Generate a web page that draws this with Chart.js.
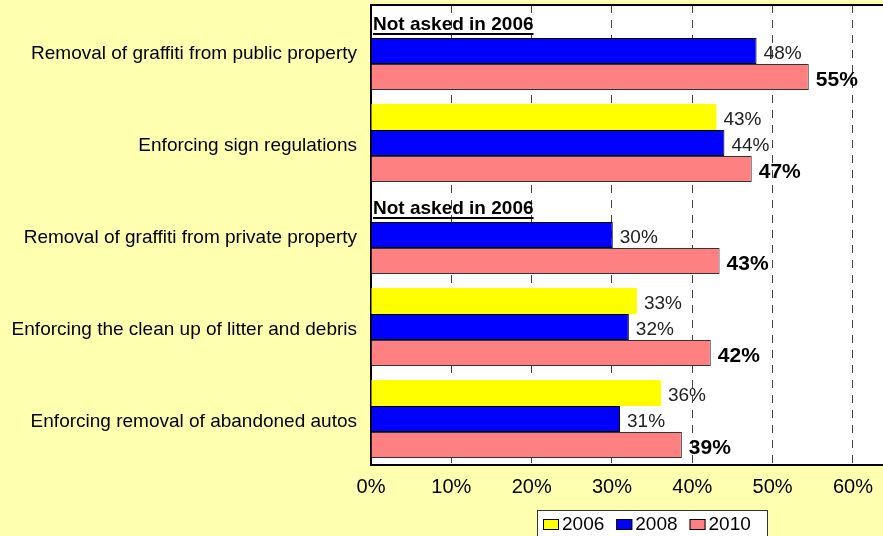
<!DOCTYPE html>
<html>
<head>
<meta charset="utf-8">
<script src="https://cdn.jsdelivr.net/npm/chart.js@4"></script>
<style>
  html, body { margin: 0; padding: 0; background: #FFFFB0; }
  #wrap { width: 883px; height: 536px; position: relative; }
</style>
</head>
<body>
<div id="wrap"><canvas id="c" width="883" height="536"></canvas></div>
<script>
const categories = [
  'Removal of graffiti from public property',
  'Enforcing sign regulations',
  'Removal of graffiti from private property',
  'Enforcing the clean up of litter and debris',
  'Enforcing removal of abandoned autos'
];
const years = ['2006', '2008', '2010'];
const values2006 = [null, 43, null, 33.1, 36.1];
const values2008 = [48, 44, 30.1, 32.1, 31];
const values2010 = [54.5, 47.4, 43.4, 42.3, 38.7];
const tickValues = [0, 10, 20, 30, 40, 50, 60];
const notAskedText = 'Not asked in 2006';

const FONT = '"Liberation Sans", Arial, sans-serif';

const bgPlugin = {
  id: 'bg',
  beforeDraw(chart) {
    const {ctx, chartArea: a} = chart;
    ctx.save();
    ctx.fillStyle = '#FFFFB0';
    ctx.fillRect(0, 0, chart.width, chart.height);
    ctx.fillStyle = '#FFFFFF';
    ctx.fillRect(a.left, a.top, chart.width - a.left, a.bottom - a.top);
    ctx.restore();
  },
  afterDraw(chart) {
    const {ctx, chartArea: a} = chart;
    ctx.save();
    // top border
    ctx.strokeStyle = '#000';
    ctx.lineWidth = 2;
    ctx.beginPath();
    ctx.moveTo(a.left, a.top);
    ctx.lineTo(chart.width, a.top);
    ctx.stroke();

    // data labels
    chart.data.datasets.forEach((ds, di) => {
      const meta = chart.getDatasetMeta(di);
      meta.data.forEach((bar, i) => {
        const v = ds.data[i];
        if (v === null || v === undefined) return;
        const bold = di === 2;
        ctx.font = (bold ? 'bold 21px ' : '19px ') + FONT;
        ctx.fillStyle = bold ? '#000' : '#222';
        ctx.textAlign = 'left';
        ctx.textBaseline = 'middle';
        ctx.fillText(Math.round(v) + '%', bar.x + 7, bar.y + 3);
      });
    });

    // "Not asked in 2006"
    const meta1 = chart.getDatasetMeta(1);
    values2006.forEach((v, i) => {
      if (v !== null) return;
      const b1 = meta1.data[i];
      const y = b1.y - b1.height;
      ctx.font = 'bold 19px ' + FONT;
      ctx.fillStyle = '#000';
      ctx.textAlign = 'left';
      ctx.textBaseline = 'middle';
      const x = a.left + 2;
      ctx.fillText(notAskedText, x, y);
      const w = ctx.measureText(notAskedText).width;
      ctx.fillRect(x, y + 8, w, 2);
    });

    // legend
    const lx = 537, ly = 510, lw = 230, lh = 32;
    ctx.fillStyle = '#FFFFFF';
    ctx.fillRect(lx, ly, lw, lh);
    ctx.strokeStyle = '#333';
    ctx.lineWidth = 1;
    ctx.strokeRect(lx + 0.5, ly + 0.5, lw, lh);
    ctx.font = '19px ' + FONT;
    ctx.textAlign = 'left';
    ctx.textBaseline = 'middle';
    let x = lx + 6;
    chart.data.datasets.forEach((ds) => {
      ctx.fillStyle = ds.backgroundColor;
      ctx.fillRect(x, 519, 16, 11);
      ctx.strokeStyle = '#000';
      ctx.strokeRect(x + 0.5, 519.5, 15, 10);
      ctx.fillStyle = '#000';
      ctx.fillText(ds.label, x + 19, 525);
      x += 19 + ctx.measureText(ds.label).width + 12;
    });
    ctx.restore();
  }
};

new Chart(document.getElementById('c'), {
  type: 'bar',
  data: {
    labels: categories,
    datasets: [
      { label: years[0], data: values2006, backgroundColor: '#FFFF00', borderColor: '#FFFF00', borderWidth: 0 },
      { label: years[1], data: values2008, backgroundColor: '#0000FF', borderColor: '#000000', borderWidth: 1 },
      { label: years[2], data: values2010, backgroundColor: '#FF8080', borderColor: '#333333', borderWidth: 1 }
    ]
  },
  options: {
    indexAxis: 'y',
    responsive: false,
    animation: false,
    categoryPercentage: 0.848,
    barPercentage: 1,
    layout: { padding: { top: 5, left: 0, right: 0, bottom: 0 } },
    plugins: { legend: { display: false }, tooltip: { enabled: false } },
    scales: {
      x: {
        min: 0,
        max: 63.74,
        afterFit(scale) {
          scale.height = 71;
          scale.paddingLeft = 0; scale.paddingRight = 0;
        },
        afterBuildTicks(scale) { scale.ticks = tickValues.map(v => ({ value: v })); },
        ticks: {
          padding: 10,
          color: '#000',
          font: { family: FONT, size: 20 },
          callback: (v) => v + '%'
        },
        grid: { color: '#444', lineWidth: 1, drawTicks: false },
        border: { display: true, color: '#000', width: 2, dash: [8, 7] }
      },
      y: {
        afterFit(scale) {
          scale.width = 371;
          scale.paddingTop = 0; scale.paddingBottom = 0;
        },
        ticks: {
          padding: 14,
          labelOffset: 3,
          color: '#000',
          font: { family: FONT, size: 19 }
        },
        grid: { display: false, drawTicks: false },
        border: { display: true, color: '#000', width: 2 }
      }
    }
  },
  plugins: [bgPlugin]
});
</script>
</body>
</html>
